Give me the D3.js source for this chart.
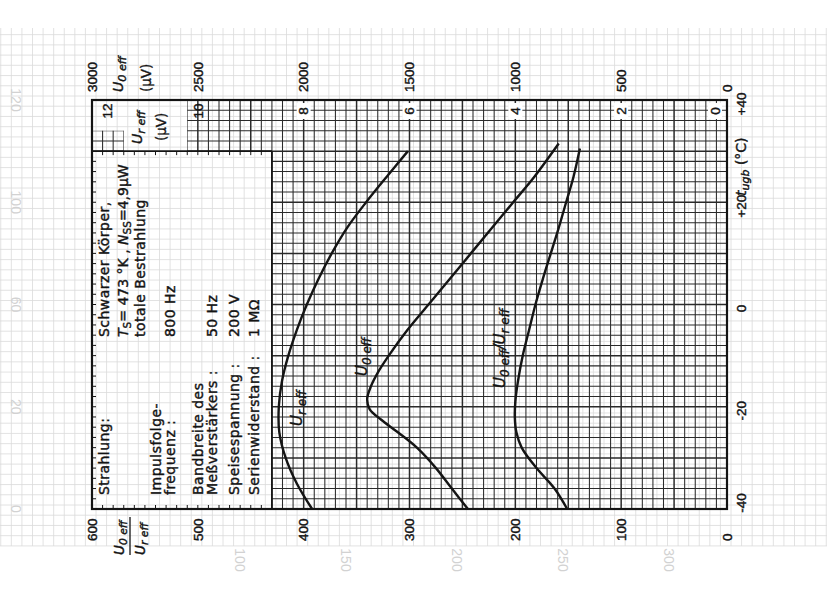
<!DOCTYPE html>
<html><head><meta charset="utf-8">
<script src="https://cdn.jsdelivr.net/npm/d3@7"></script>
<style>
html,body{margin:0;padding:0;background:#fff;}
svg{display:block;}
</style></head><body>
<svg id="chart" width="827" height="590"></svg>
<script>
// ---------------- data ----------------
const ratioTicks = [600, 500, 400, 300, 200, 100, 0];
const u0Ticks = [3000, 2500, 2000, 1500, 1000, 500, 0];
const urTicks = [12, 10, 8, 6, 4, 2, 0];
const tempTicks = [-40, -20, 0, 20, 40];

// U_r eff (µV) vs t_ugb (°C)
const tUr   = [-40, -35, -30, -25, -20, -15, -10, -5, 0, 5, 10, 15, 20, 25, 30];
const urEff = [7.84, 8.13, 8.34, 8.46, 8.47, 8.41, 8.29, 8.13, 7.94, 7.72, 7.47, 7.18, 6.82, 6.43, 6.03];

// U_0 eff (µV) vs t_ugb (°C)
const tU0   = [-40, -36, -32, -28, -25, -22.5, -20.5, -18.5, -16, -13, -10, -5, 0, 5, 10, 15, 20, 25, 31.5];
const u0Eff = [1224, 1300, 1375, 1465, 1555, 1635, 1688, 1700, 1682, 1645, 1598, 1510, 1410, 1310, 1210, 1110, 1010, 910, 795];

// U_0 eff / U_r eff vs t_ugb (°C)
const tRatio    = [-40, -36, -32, -28, -25, -22, -19, -15, -10, -5, 0, 5, 10, 15, 20, 25, 30.5];
const ratioVals = [151, 163, 180, 194, 199, 200.5, 200, 197.5, 193, 187, 181, 174, 166.5, 159, 152, 145, 139];

// ---------------- scales ----------------
const svg = d3.select('#chart');
const xRatio = d3.scaleLinear().domain([600, 0]).range([92, 727]);
const xUr = d3.scaleLinear().domain([12, 0]).range([92, 727]);
const xU0 = d3.scaleLinear().domain([3000, 0]).range([92, 727]);
const yT = d3.scaleLinear().domain([-40, 40]).range([509, 100]);

const INK = '#141414';
const FAINT = '#dadada';
const boxRatio = 430, boxT = 30;   // empty legend box region (ratio 430..600, t -40..30)

// ---------------- faint background grid (bleed-through paper) ----------------
const faint = svg.append('g');
const fx = d3.range(-90, 790, 10).map(v => xRatio(v) + 4).filter(x => x >= 0 && x <= 827);
const fy = d3.range(-48, 56, 2).map(t => yT(t) - 4).filter(y => y >= 28 && y <= 546);
faint.selectAll('line.fv').data(fx).join('line')
  .attr('x1', d => d).attr('x2', d => d).attr('y1', 28).attr('y2', 546)
  .attr('stroke', FAINT).attr('stroke-width', 0.8);
faint.selectAll('line.fh').data(fy).join('line')
  .attr('x1', 0).attr('x2', 827).attr('y1', d => d).attr('y2', d => d)
  .attr('stroke', FAINT).attr('stroke-width', 0.8);

// ghost labels from the reverse side
const ghostVals = ['100', '150', '200', '250', '300'];
const ghostRatio = [460, 360, 255, 155, 55];
faint.selectAll('text.gh').data(ghostVals).join('text')
  .attr('transform', (d, i) => `translate(${xRatio(ghostRatio[i])},${560}) rotate(90)`)
  .attr('text-anchor', 'middle').attr('dy', '0.35em')
  .attr('font-family', 'Liberation Sans, Arial, sans-serif').attr('font-size', 14)
  .attr('fill', '#d2d2d2').text(d => d);
const ghostLeft = ['0', '20', '60', '100', '120'];
const ghostLeftT = [-40, -20, 0, 20, 40];
faint.selectAll('text.gl').data(ghostLeft).join('text')
  .attr('transform', (d, i) => `translate(16,${yT(ghostLeftT[i])}) rotate(90)`)
  .attr('text-anchor', 'middle').attr('dy', '0.35em')
  .attr('font-family', 'Liberation Sans, Arial, sans-serif').attr('font-size', 14)
  .attr('fill', '#d2d2d2').text(d => d);

// ---------------- dark grid with holes ----------------
const defs = svg.append('defs');
const holes = [
  [boxRatio, 600, -40, boxT],
  [510, 570, 30, 40],
  [570, 600, 34, 40]
];
function rectPath(r0, r1, t0, t1) {
  const x0 = xRatio(r1), x1 = xRatio(r0), y0 = yT(t1), y1 = yT(t0);
  return `M${x0},${y0}H${x1}V${y1}H${x0}Z`;
}
let clipD = rectPath(0, 600, -40, 40);
holes.forEach(h => { clipD += rectPath(h[0], h[1], h[2], h[3]); });
defs.append('clipPath').attr('id', 'gridClip').append('path')
  .attr('d', clipD).attr('clip-rule', 'evenodd');

const grid = svg.append('g').attr('clip-path', 'url(#gridClip)');
const vVals = d3.range(0, 601, 10);
const hVals = d3.range(-40, 41, 2);
grid.selectAll('line.v').data(vVals).join('line')
  .attr('x1', d => xRatio(d)).attr('x2', d => xRatio(d))
  .attr('y1', yT(40)).attr('y2', yT(-40))
  .attr('stroke', '#2a2a2a').attr('stroke-width', d => d % 50 === 0 ? 1.5 : 1.05);
grid.selectAll('line.h').data(hVals).join('line')
  .attr('x1', xRatio(600)).attr('x2', xRatio(0))
  .attr('y1', d => yT(d)).attr('y2', d => yT(d))
  .attr('stroke', '#2a2a2a').attr('stroke-width', d => d % 10 === 0 ? 1.5 : 1.05);

// legend box edges + ticks
const box = svg.append('g');
box.append('line').attr('x1', xRatio(600)).attr('x2', xRatio(boxRatio))
  .attr('y1', yT(boxT)).attr('y2', yT(boxT)).attr('stroke', INK).attr('stroke-width', 1.6);
box.append('line').attr('x1', xRatio(boxRatio)).attr('x2', xRatio(boxRatio))
  .attr('y1', yT(boxT)).attr('y2', yT(-40)).attr('stroke', INK).attr('stroke-width', 1.8);
const tickR = d3.range(boxRatio + 10, 600, 10);
box.selectAll('line.tt').data(tickR).join('line')
  .attr('x1', d => xRatio(d)).attr('x2', d => xRatio(d))
  .attr('y1', yT(boxT)).attr('y2', yT(boxT) + 4).attr('stroke', INK).attr('stroke-width', 1);
box.selectAll('line.tb').data(tickR).join('line')
  .attr('x1', d => xRatio(d)).attr('x2', d => xRatio(d))
  .attr('y1', yT(-40)).attr('y2', yT(-40) - 4).attr('stroke', INK).attr('stroke-width', 1);
const tickT = d3.range(-38, boxT, 2);
box.selectAll('line.tl').data(tickT).join('line')
  .attr('x1', xRatio(600)).attr('x2', xRatio(600) + 4)
  .attr('y1', d => yT(d)).attr('y2', d => yT(d)).attr('stroke', INK).attr('stroke-width', 1);

// frame
svg.append('rect').attr('x', xRatio(600)).attr('y', yT(40))
  .attr('width', xRatio(0) - xRatio(600)).attr('height', yT(-40) - yT(40))
  .attr('fill', 'none').attr('stroke', INK).attr('stroke-width', 2.2);

// ---------------- curves ----------------
const curves = svg.append('g').attr('fill', 'none').attr('stroke', INK).attr('stroke-width', 2.4);
const lineUr = d3.line().x(d => xUr(d[1])).y(d => yT(d[0])).curve(d3.curveCatmullRom.alpha(0.5));
const lineU0 = d3.line().x(d => xU0(d[1])).y(d => yT(d[0])).curve(d3.curveCatmullRom.alpha(0.5));
const lineRatio = d3.line().x(d => xRatio(d[1])).y(d => yT(d[0])).curve(d3.curveCatmullRom.alpha(0.5));
curves.append('path').attr('d', lineUr(d3.zip(tUr, urEff)));
curves.append('path').attr('d', lineU0(d3.zip(tU0, u0Eff)));
curves.append('path').attr('d', lineRatio(d3.zip(tRatio, ratioVals)));

// ---------------- texts ----------------
const NUM_FONT = 'Liberation Sans, Arial, sans-serif';
const TXT_FONT = 'DejaVu Sans, sans-serif';
function vtext(x, y, anchor, size, family) {
  return svg.append('text')
    .attr('transform', `translate(${x},${y}) rotate(-90)`)
    .attr('text-anchor', anchor)
    .attr('font-family', family || NUM_FONT)
    .attr('font-size', size)
    .attr('fill', INK)
    .attr('stroke', INK).attr('stroke-width', 0.4);
}
// U eff label with subscript
function uLabel(x, y, sub, size, anchor) {
  const t = vtext(x, y, anchor || 'start', size, TXT_FONT).attr('font-style', 'italic').attr('dy', '0.35em');
  t.append('tspan').text('U');
  t.append('tspan').attr('font-size', size * 0.8).attr('dy', size * 0.25).text(sub + ' eff');
  return t;
}

// bottom axis (ratio)
ratioTicks.forEach(v => {
  vtext(xRatio(v), 541, 'start', 13.5).attr('dy', '0.35em').text(v);
});
// fraction label
uLabel(119, 555, '0', 13.5);
svg.append('line').attr('x1', 130).attr('x2', 130).attr('y1', 517).attr('y2', 555)
  .attr('stroke', INK).attr('stroke-width', 1.3);
uLabel(140, 555, 'r', 13.5);

// top axis (U0 eff)
u0Ticks.forEach(v => {
  vtext(xU0(v), 92, 'start', 13.5).attr('dy', '0.35em').text(v);
});
uLabel(118, 92, '0', 14);
vtext(146, 92, 'start', 13.5, TXT_FONT).attr('dy', '0.35em').text('(µV)');

// inner strip (Ur eff)
urTicks.forEach(v => {
  const x = v === 12 ? xUr(v) + 15 : (v === 0 ? xUr(v) - 12 : xUr(v));
  if (v !== 12 && v !== 10) {
    svg.append('rect').attr('x', x - 7).attr('y', 103).attr('width', 14).attr('height', 16).attr('fill', '#fff');
  }
  vtext(x, 111, 'middle', 13.5).attr('dy', '0.35em').text(v);
});
uLabel(137, 144, 'r', 14);
vtext(161, 141, 'start', 13.5, TXT_FONT).attr('dy', '0.35em').text('(µV)');

// right axis (t)
tempTicks.forEach(v => {
  vtext(741, Math.min(yT(v) + 4, 503), 'middle', 13.5).attr('dy', '0.35em')
    .text(v > 0 ? '+' + v : (v < 0 ? '-' + Math.abs(v) : '0'));
});
const tl = vtext(741, 196, 'start', 14, TXT_FONT).attr('dy', '0.35em');
tl.append('tspan').attr('font-style', 'italic').text('t');
tl.append('tspan').attr('font-style', 'italic').attr('font-size', 11).attr('dy', 3.5).text('ugb');
tl.append('tspan').attr('dy', -3.5).text(' (°C)');

// legend box texts
const BOX_FS = 14;
function boxLine(x, y, str) {
  return vtext(x, y, 'start', BOX_FS, TXT_FONT).attr('letter-spacing', 0.45).text(str);
}
boxLine(109, 495, 'Strahlung:');
boxLine(109, 337, 'Schwarzer  Körper,');
const ts = vtext(128, 337, 'start', BOX_FS, TXT_FONT);
ts.append('tspan').attr('font-style', 'italic').text('T');
ts.append('tspan').attr('font-size', 10.5).attr('dy', 3).text('S');
ts.append('tspan').attr('dy', -3).text('= 473 °K , ');
ts.append('tspan').attr('font-style', 'italic').text('N');
ts.append('tspan').attr('font-size', 10.5).attr('dy', 3).text('SS');
ts.append('tspan').attr('dy', -3).text('=4,9µW');
boxLine(145, 337, 'totale  Bestrahlung');
boxLine(161, 495, 'Impulsfolge-');
boxLine(175, 495, 'frequenz :');
boxLine(175, 337, '800 Hz');
boxLine(203, 495, 'Bandbreite  des');
boxLine(217, 495, 'Meßverstärkers :');
boxLine(217, 337, '50 Hz');
boxLine(239, 495, 'Speisespannung :');
boxLine(239, 337, '200 V');
boxLine(259, 495, 'Serienwiderstand :');
boxLine(259, 337, '1 MΩ');

// curve labels
uLabel(297, 426, 'r', 15);
uLabel(362, 376, '0', 15);
const rl = vtext(500, 388, 'start', 15, TXT_FONT).attr('font-style', 'italic').attr('dy', '0.35em');
rl.append('tspan').text('U');
rl.append('tspan').attr('font-size', 12).attr('dy', 4).text('0 eff');
rl.append('tspan').attr('dy', -4).text('/U');
rl.append('tspan').attr('font-size', 12).attr('dy', 4).text('r eff');
</script>
</body></html>
